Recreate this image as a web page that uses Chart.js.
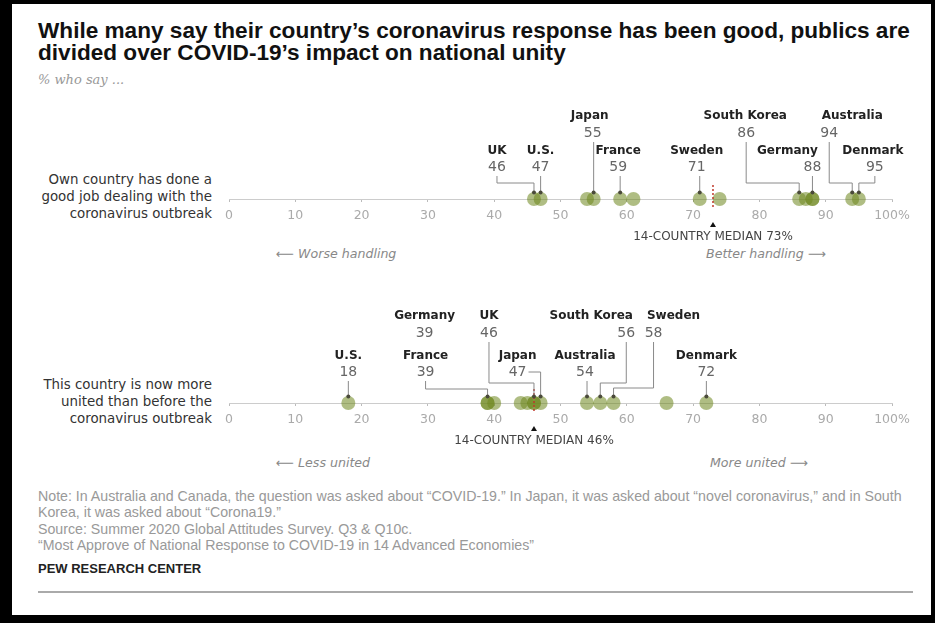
<!DOCTYPE html>
<html>
<head>
<meta charset="utf-8">
<script src="https://cdn.jsdelivr.net/npm/chart.js@4/dist/chart.umd.min.js"></script>
<style>
  html, body { margin:0; padding:0; }
  body { width:935px; height:623px; background:#000; position:relative; overflow:hidden; }
  #panel { position:absolute; left:12px; top:4px; width:919px; height:611px; background:#fff; }
  .abs { position:absolute; white-space:nowrap; }
  #title { left:38px; top:20px; font:bold 22.6px "Liberation Sans", Arial, sans-serif; line-height:22px; color:#111; }
  #sub { left:38px; top:72px; font:italic 13px "DejaVu Serif", serif; line-height:16px; color:#999; }
  .rowlab { font:13.4px "DejaVu Sans", sans-serif; color:#333; text-align:right; line-height:17px; }
  .dir { font:italic 12.6px "DejaVu Sans", sans-serif; color:#888; line-height:14px; }
  #notes { left:38px; top:488px; font:14.2px "Liberation Sans", Arial, sans-serif; color:#999; line-height:16.3px; }
  #pew { left:38px; top:561px; font:bold 13px "Liberation Sans", Arial, sans-serif; color:#222; line-height:16px; }
  #rule { position:absolute; left:38px; top:591px; width:875px; height:2px; background:#aaa; }
  canvas { position:absolute; left:0; }
</style>
</head>
<body>
<div id="panel"></div>
<div id="title" class="abs">While many say their country’s coronavirus response has been good, publics are<br>divided over COVID-19’s impact on national unity</div>
<div id="sub" class="abs">% who say ...</div>

<div class="abs rowlab" style="right:723px; top:171px;">Own country has done a<br>good job dealing with the<br>coronavirus outbreak</div>
<div class="abs rowlab" style="right:723px; top:376px;">This country is now more<br>united than before the<br>coronavirus outbreak</div>

<div class="abs dir" style="left:276px; top:247px;">⟵ Worse handling</div>
<div class="abs dir" style="left:706px; top:247px;">Better handling ⟶</div>
<div class="abs dir" style="left:276px; top:456px;">⟵ Less united</div>
<div class="abs dir" style="left:710px; top:456px;">More united ⟶</div>

<canvas id="c1" width="935" height="160" style="top:100px"></canvas>
<canvas id="c2" width="935" height="160" style="top:290px"></canvas>

<div id="notes" class="abs">Note: In Australia and Canada, the question was asked about “COVID-19.” In Japan, it was asked about “novel coronavirus,” and in South<br>Korea, it was asked about “Corona19.”<br>Source: Summer 2020 Global Attitudes Survey. Q3 &amp; Q10c.<br>“Most Approve of National Response to COVID-19 in 14 Advanced Economies”</div>
<div id="pew" class="abs">PEW RESEARCH CENTER</div>
<div id="rule"></div>

<script>
// ---------- DATA ----------
const tickValues = [0, 10, 20, 30, 40, 50, 60, 70, 80, 90, 100];
const tickLabels = ['0', '10', '20', '30', '40', '50', '60', '70', '80', '90', '100%'];

// Chart 1: own country has done a good job
const goodCountries = ['UK', 'U.S.', 'Japan', 'France', 'Sweden', 'South Korea', 'Germany', 'Australia', 'Denmark'];
const goodValues = [46, 47, 55, 59, 71, 86, 88, 94, 95];
const goodOtherValues = [54, 61, 74, 87, 88];   // unlabeled countries
const goodMedian = 73;

// Chart 2: country now more united
const unitedCountries = ['U.S.', 'Germany', 'France', 'UK', 'Japan', 'Australia', 'South Korea', 'Sweden', 'Denmark'];
const unitedValues = [18, 39, 39, 46, 47, 54, 56, 58, 72];
const unitedOtherValues = [40, 44, 45, 46, 66];  // unlabeled countries
const unitedMedian = 46;

// ---------- LAYOUT (label placement, pixels) ----------
const goodLayout = [
  {tier:'lo', nameDx:-37, valueDx:-37, leader:'elbow', elbow:-16},
  {tier:'lo', nameDx:0, valueDx:0, leader:'straight'},
  {tier:'hi', nameDx:-4, valueDx:-1, leader:'straight'},
  {tier:'lo', nameDx:-2, valueDx:-2, leader:'straight'},
  {tier:'lo', nameDx:-3, valueDx:-3, leader:'straight'},
  {tier:'hi', nameDx:-54, valueDx:-53, leader:'elbow', elbow:-16},
  {tier:'lo', nameDx:-25, valueDx:0, leader:'straight'},
  {tier:'hi', nameDx:0, valueDx:-23, leader:'elbow', elbow:-16},
  {tier:'lo', nameDx:14, valueDx:16, leader:'elbow', elbow:-16}
];
const goodTiers = {hi:{name:-83, value:-66}, lo:{name:-48, value:-32}};

const unitedLayout = [
  {tier:'lo', nameDx:0, valueDx:0, leader:'straight'},
  {tier:'hi', nameDx:-63, valueDx:-63, leader:'none'},
  {tier:'lo', nameDx:-62, valueDx:-62, leader:'elbow', elbow:-14},
  {tier:'hi', nameDx:-45, valueDx:-45, leader:'elbow', elbow:-20},
  {tier:'lo', nameDx:-23, valueDx:-23, leader:'side'},
  {tier:'lo', nameDx:-2, valueDx:-2, leader:'straight'},
  {tier:'hi', nameDx:-9, valueDx:26, leader:'elbow', elbow:-20},
  {tier:'hi', nameDx:60, valueDx:40, leader:'elbow', elbow:-15},
  {tier:'lo', nameDx:0, valueDx:0, leader:'straight'}
];
const unitedTiers = {hi:{name:-87, value:-70}, lo:{name:-47, value:-31}};

const DOT_R = 7;
const DOT_COLOR = 'rgba(110,135,30,0.55)';

function labelPlugin(names, values, layout, tiers, median, medianText) {
  return {
    id: 'labels',
    afterDatasetsDraw(chart) {
      const ctx = chart.ctx;
      const xs = chart.scales.x, ys = chart.scales.y;
      const axisY = ys.getPixelForValue(0);
      ctx.save();
      // median marker
      const mx = xs.getPixelForValue(median);
      ctx.strokeStyle = '#c0392b';
      ctx.lineWidth = 1.5;
      ctx.setLineDash([2, 2]);
      ctx.beginPath(); ctx.moveTo(mx, axisY - 14); ctx.lineTo(mx, axisY + 9); ctx.stroke();
      ctx.setLineDash([]);
      ctx.fillStyle = '#111';
      ctx.beginPath();
      ctx.moveTo(mx, axisY + 23); ctx.lineTo(mx - 3, axisY + 28); ctx.lineTo(mx + 3, axisY + 28); ctx.closePath(); ctx.fill();
      ctx.font = '12px "DejaVu Sans", sans-serif';
      ctx.fillStyle = '#444';
      ctx.textAlign = 'center'; ctx.textBaseline = 'middle';
      ctx.fillText(medianText, mx, axisY + 38);

      names.forEach((name, i) => {
        const L = layout[i];
        const dx = xs.getPixelForValue(values[i]);
        const t = tiers[L.tier];
        const nameY = axisY + t.name, valY = axisY + t.value;
        ctx.textAlign = 'center'; ctx.textBaseline = 'middle';
        ctx.font = 'bold 12px "DejaVu Sans", sans-serif';
        ctx.fillStyle = '#222';
        ctx.fillText(name, dx + L.nameDx, nameY);
        ctx.font = '14px "DejaVu Sans", sans-serif';
        ctx.fillStyle = '#666';
        const vtxt = String(values[i]);
        const vx = dx + L.valueDx;
        ctx.fillText(vtxt, vx, valY);
        const top = axisY - DOT_R;
        ctx.strokeStyle = '#8a8a8a';
        ctx.lineWidth = 1;
        ctx.beginPath();
        if (L.leader === 'straight') {
          ctx.moveTo(dx, valY + 9); ctx.lineTo(dx, top);
        } else if (L.leader === 'elbow') {
          const ey = axisY + L.elbow;
          ctx.moveTo(vx, valY + 9); ctx.lineTo(vx, ey); ctx.lineTo(dx, ey); ctx.lineTo(dx, top);
        } else if (L.leader === 'side') {
          const w = ctx.measureText(vtxt).width;
          ctx.moveTo(vx + w / 2 + 2, valY); ctx.lineTo(dx, valY); ctx.lineTo(dx, top);
        }
        ctx.stroke();
        if (L.leader !== 'none') {
          ctx.fillStyle = '#4a4a3a';
          ctx.beginPath(); ctx.arc(dx, top + 0.5, 2, 0, Math.PI * 2); ctx.fill();
        }
      });
      ctx.restore();
    }
  };
}

function makeChart(id, names, values, others, layout, tiers, median, medianText, padBottom) {
  const pts = values.concat(others).map(v => ({x: v, y: 0}));
  return new Chart(document.getElementById(id), {
    type: 'scatter',
    data: { datasets: [{
      data: pts,
      backgroundColor: DOT_COLOR,
      borderWidth: 0,
      pointRadius: DOT_R,
      pointHoverRadius: DOT_R,
      clip: false
    }]},
    options: {
      responsive: false,
      animation: false,
      devicePixelRatio: 1,
      layout: { padding: { left: 229, right: 43, top: 5, bottom: padBottom } },
      plugins: { legend: { display: false }, tooltip: { enabled: false } },
      events: [],
      scales: {
        x: {
          type: 'linear', min: 0, max: 100,
          afterBuildTicks: s => { s.ticks = tickValues.map(v => ({value: v})); },
          ticks: {
            callback: (v, i) => tickLabels[i],
            color: '#aaa',
            font: { family: 'DejaVu Sans', size: 12.5 },
            padding: 6,
            maxRotation: 0,
            autoSkip: false
          },
          grid: { display: true, drawOnChartArea: false, drawTicks: true, tickLength: 3, color: '#bbb' },
          border: { display: true, color: '#ccc', width: 1 }
        },
        y: { display: false, min: 0, max: 1 }
      }
    },
    plugins: [labelPlugin(names, values, layout, tiers, median, medianText)]
  });
}

makeChart('c1', goodCountries, goodValues, goodOtherValues, goodLayout, goodTiers, goodMedian, '14-COUNTRY MEDIAN 73%', 31);
makeChart('c2', unitedCountries, unitedValues, unitedOtherValues, unitedLayout, unitedTiers, unitedMedian, '14-COUNTRY MEDIAN 46%', 17);
</script>
</body>
</html>
